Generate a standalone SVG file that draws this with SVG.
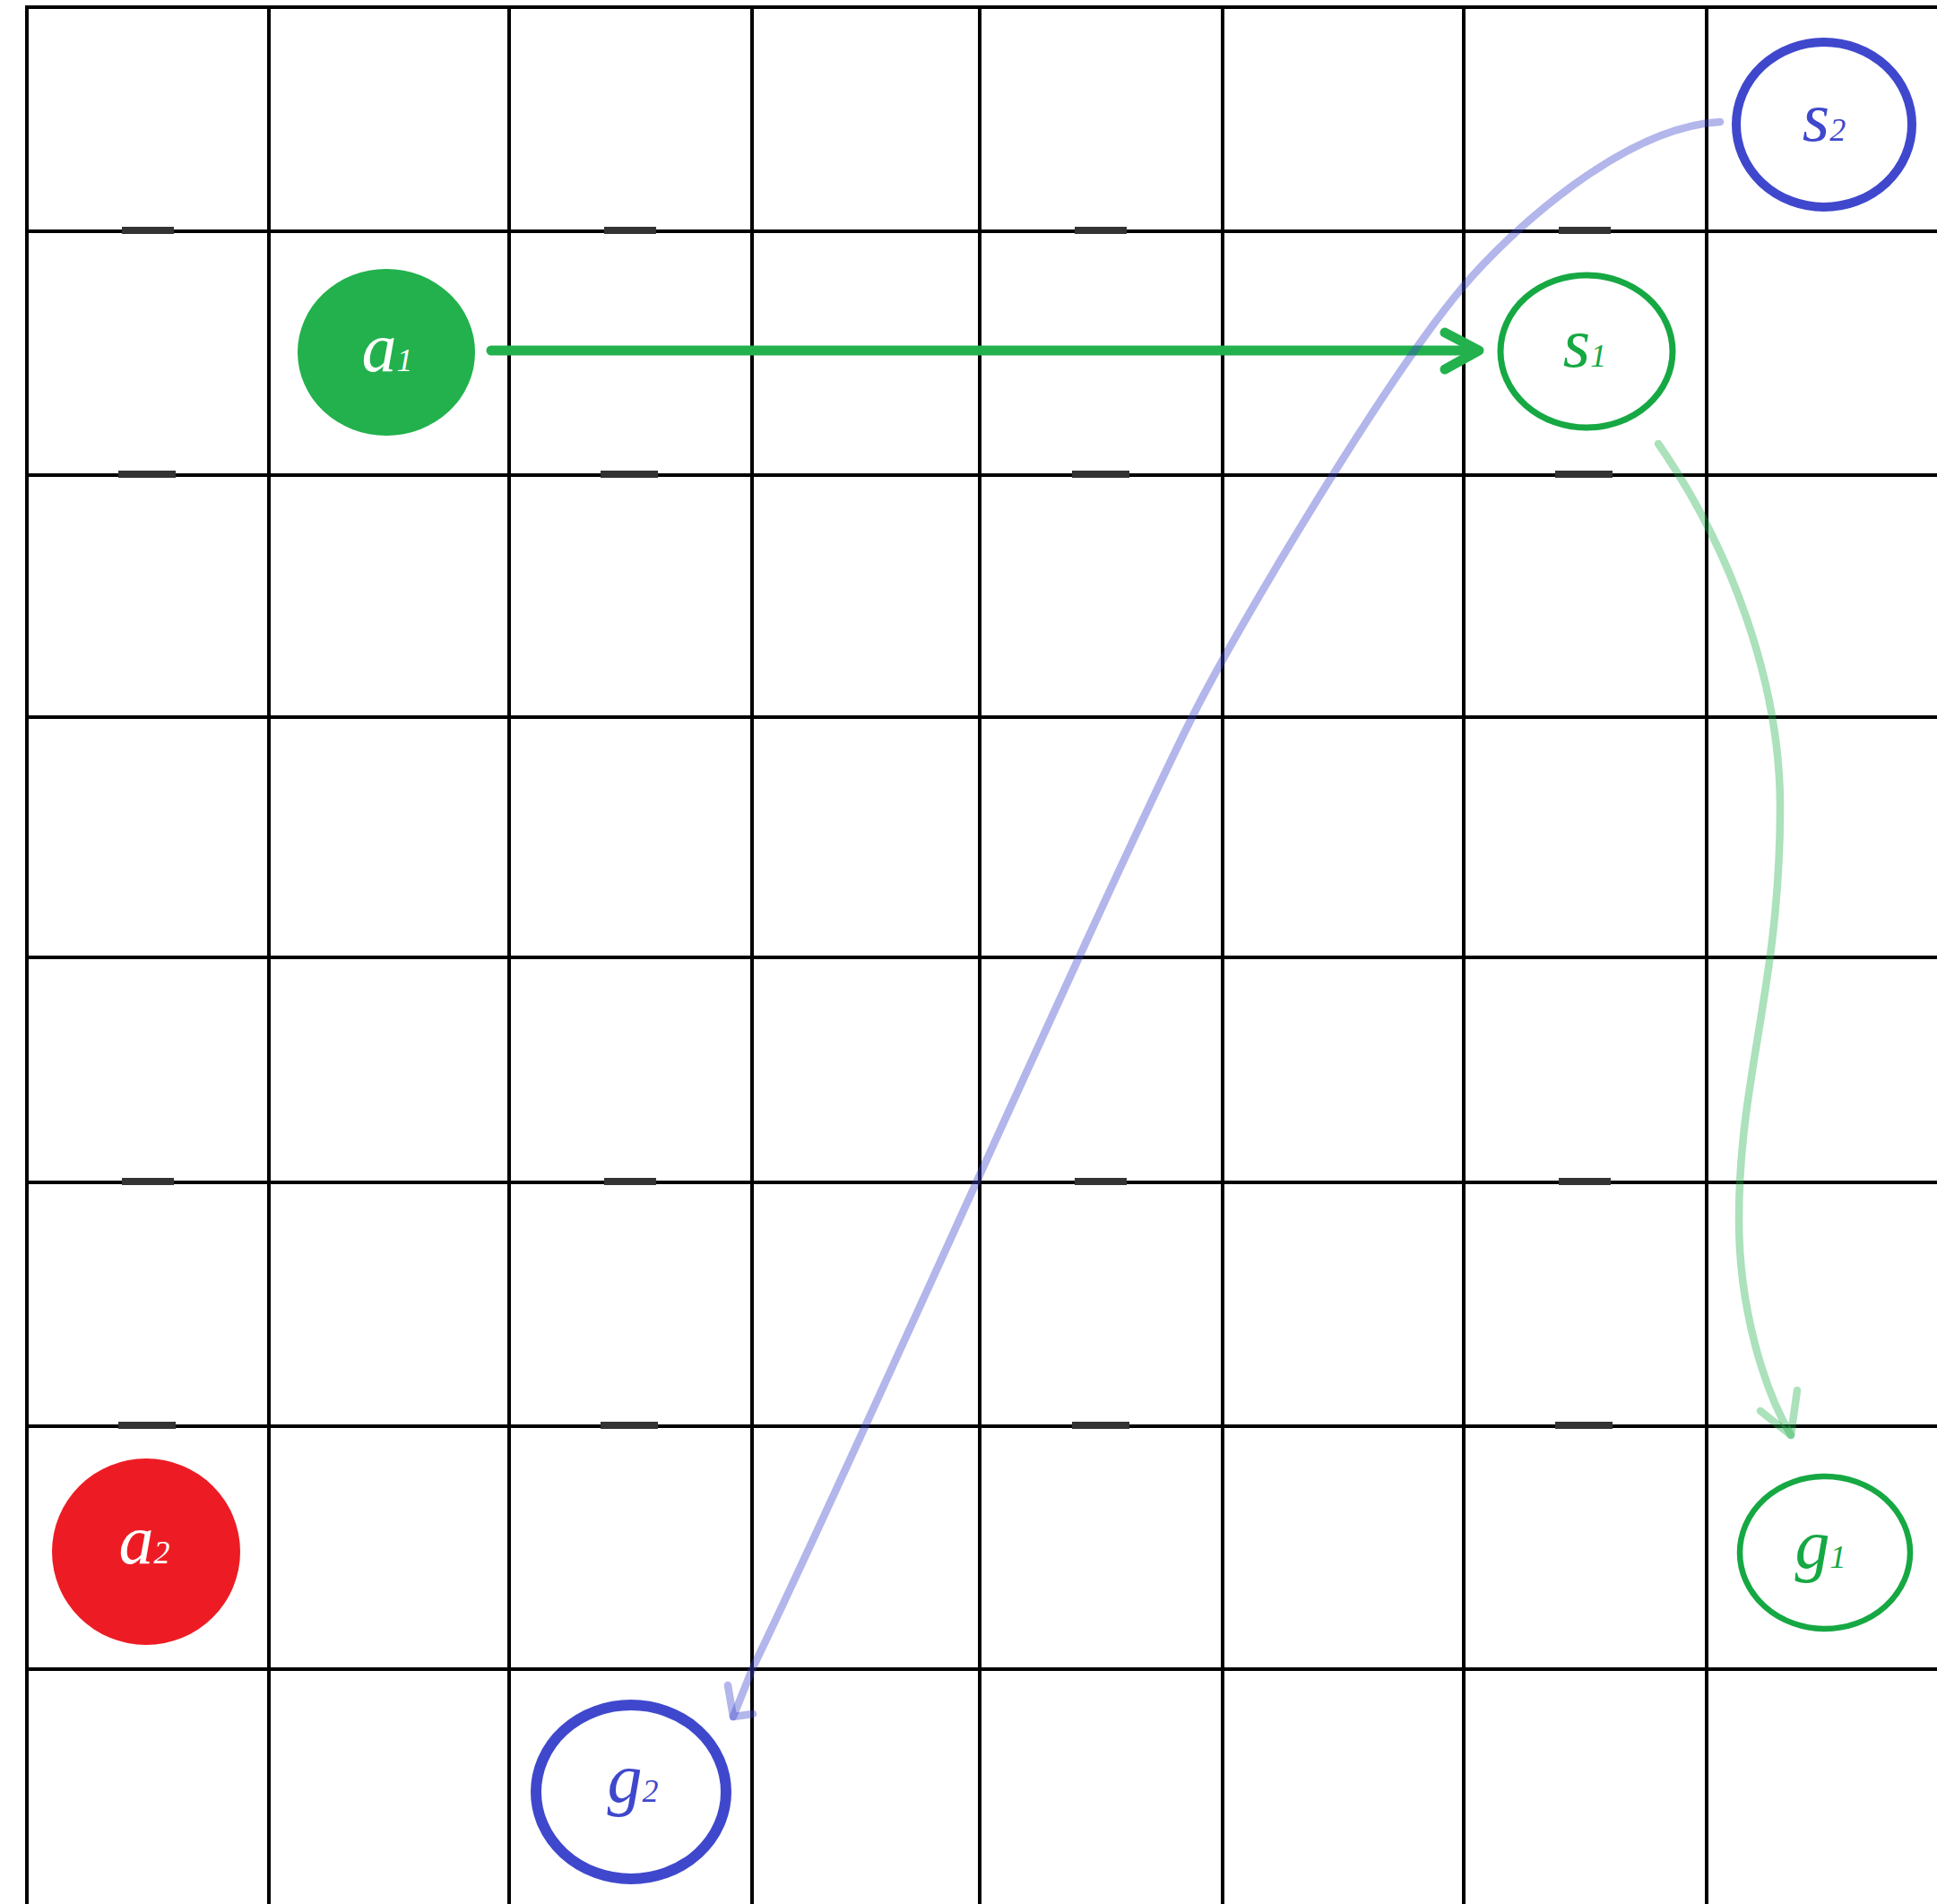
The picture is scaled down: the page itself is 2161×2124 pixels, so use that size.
<svg xmlns="http://www.w3.org/2000/svg" width="2161" height="2124" viewBox="0 0 2161 2124">
<style>
.g{stroke:#000;stroke-width:4;fill:none}
.tick{fill:#333}
.lbl{font-family:"Liberation Serif","Times New Roman",serif;font-style:italic;font-size:78px;text-anchor:middle}
.sub{font-size:36px}
.green{fill:#16a843}
.blue{fill:#3F48CC}
.white{fill:#fff}
</style>
<rect width="2161" height="2124" fill="#fff"/>
<g id="grid">
<path class="g" d="M30,6V2124M300,6V2124M568,6V2124M839,6V2124M1093,6V2124M1364,6V2124M1633,6V2124M1904,6V2124"/>
<path class="g" d="M28,8H2161M28,258H2161M28,530H2161M28,800H2161M28,1068H2161M28,1319H2161M28,1591H2161M28,1862H2161"/>
<g id="ticks">
<rect class="tick" x="136" y="253" width="58" height="8"/>
<rect class="tick" x="674" y="253" width="58" height="8"/>
<rect class="tick" x="1199" y="253" width="58" height="8"/>
<rect class="tick" x="1739" y="253" width="58" height="8"/>
<rect class="tick" x="132" y="525" width="64" height="8"/>
<rect class="tick" x="670" y="525" width="64" height="8"/>
<rect class="tick" x="1196" y="525" width="64" height="8"/>
<rect class="tick" x="1735" y="525" width="64" height="8"/>
<rect class="tick" x="136" y="1314" width="58" height="8"/>
<rect class="tick" x="674" y="1314" width="58" height="8"/>
<rect class="tick" x="1199" y="1314" width="58" height="8"/>
<rect class="tick" x="1739" y="1314" width="58" height="8"/>
<rect class="tick" x="132" y="1586" width="64" height="8"/>
<rect class="tick" x="670" y="1586" width="64" height="8"/>
<rect class="tick" x="1196" y="1586" width="64" height="8"/>
<rect class="tick" x="1735" y="1586" width="64" height="8"/>
</g>
</g>
<g id="connectors" fill="none" stroke-linecap="round" stroke-linejoin="round">
<g id="a1-s1" stroke="#22B14C" stroke-width="11">
<path d="M548,391H1646"/>
<path d="M1612,371L1650,391L1612,412"/>
</g>
<g id="s2-g2" stroke="#3F48CC" stroke-opacity="0.4" stroke-width="8.5">
<path d="M1919,136C1810,142 1684,259 1633,319C1548,419 1380,700 1330,800C1230,1000 938,1660 840,1860L818,1915"/>
<path d="M812,1880L818,1915L840,1912"/>
</g>
<g id="s1-g1" stroke="#22B14C" stroke-opacity="0.38" stroke-width="8.5">
<path d="M1850,495C1930,610 1986,760 1986,900C1986,1100 1940,1200 1940,1360C1940,1460 1968,1550 1998,1601"/>
<path d="M1964,1574L1998,1601L2005,1551"/>
</g>
</g>
<g id="a1">
<ellipse cx="431" cy="393" rx="99" ry="93" fill="#22B14C"/>
<text class="lbl white" x="432" y="414">a<tspan class="sub">1</tspan></text>
</g>
<g id="a2">
<ellipse cx="163" cy="1731" rx="105" ry="104" fill="#ED1C24"/>
<text class="lbl white" x="161" y="1744">a<tspan class="sub">2</tspan></text>
</g>
<g id="s1">
<ellipse cx="1770" cy="392" rx="96" ry="85" fill="none" stroke="#16a843" stroke-width="7"/>
<text class="lbl green" x="1768" y="409">s<tspan class="sub">1</tspan></text>
</g>
<g id="s2">
<ellipse cx="2035" cy="139" rx="98" ry="92" fill="none" stroke="#3F48CC" stroke-width="10"/>
<text class="lbl blue" x="2035" y="157">s<tspan class="sub">2</tspan></text>
</g>
<g id="g1">
<ellipse cx="2036" cy="1732" rx="95" ry="85" fill="none" stroke="#16a843" stroke-width="6.5"/>
<text class="lbl green" x="2031" y="1749">g<tspan class="sub">1</tspan></text>
</g>
<g id="g2">
<ellipse cx="704" cy="1999" rx="106" ry="97" fill="none" stroke="#3F48CC" stroke-width="12"/>
<text class="lbl blue" x="706" y="2010">g<tspan class="sub">2</tspan></text>
</g>
</svg>
